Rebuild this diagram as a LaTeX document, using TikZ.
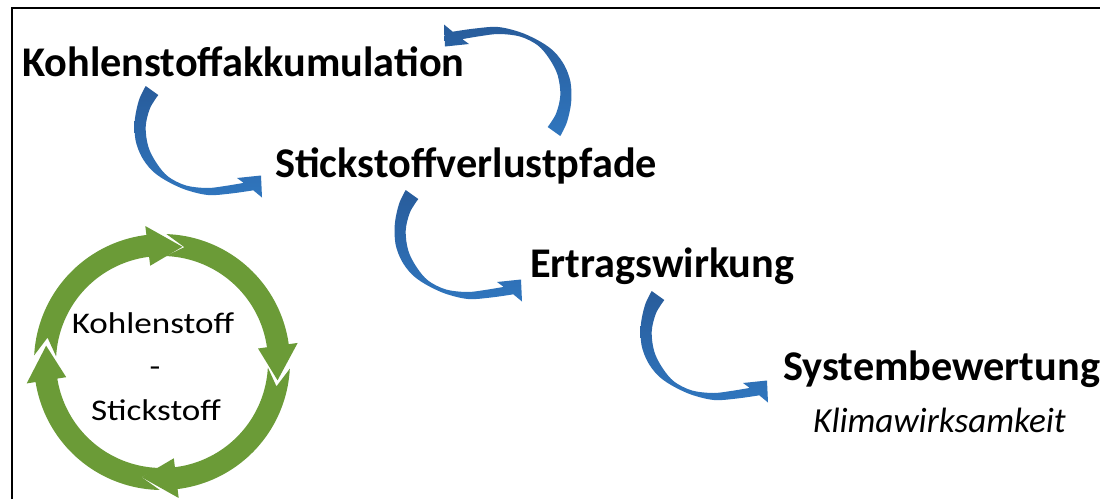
\documentclass[tikz,border=0pt]{standalone}
\usepackage{fontspec}
\setmainfont{Carlito}
\newfontfamily\ringfont[FakeStretch=1.17]{Carlito}
\definecolor{bluedark}{RGB}{40,92,155}
\definecolor{bluelight}{RGB}{48,118,190}
\definecolor{ringgreen}{RGB}{107,155,55}
\tikzset{
  titletext/.style={inner sep=0pt, anchor=base west, font=\fontsize{42.3}{48}\selectfont\bfseries},
  subtext/.style={inner sep=0pt, anchor=base west, font=\fontsize{35.2}{40}\selectfont\itshape},
  ringtext/.style={inner sep=0pt, anchor=base, font=\ringfont\fontsize{30}{35}\selectfont},
  bluearrow/.style={top color=bluedark, bottom color=bluelight, draw=none},
  greenarrow/.style={fill=ringgreen, draw=none},
  frameline/.style={line width=2.2pt, black}
}
% blue curved arrow, drawn in the frame of the first arrow
\newcommand{\curvedarrow}{%
  \shade[bluearrow] plot[smooth, tension=0.55] coordinates {(145.7,86) (139,100) (134.8,120) (135.5,140) (141.5,156.5) (151.5,170) (165,180) (185,189.5) (208,195) (231,193.5) (253.3,190.3)}
    -- (262,197.5) -- (261,175.5) -- (237,178)
    -- plot[smooth, tension=0.55] coordinates {(243.7,182.9) (225,186) (207,188) (186,185.5) (168.3,176.7) (156.7,163.3) (148.3,146.7) (145.7,126.7) (150,108.3) (158.3,95)}
    -- cycle;}
% green ring arrow with tip at angle #1
\newcommand{\ringarrow}[1]{%
  \fill[greenarrow]
    plot[domain={#1+97}:{#1+17}, samples=40] ({162+128*cos(\x)}, {362-128*sin(\x)})
    -- ({162+137*cos(#1+17)}, {362-137*sin(#1+17)})
    -- ({162+117*cos(#1)}, {362-117*sin(#1)})
    -- ({162+97*cos(#1+17)}, {362-97*sin(#1+17)})
    -- plot[domain={#1+17}:{#1+97}, samples=40] ({162+106*cos(\x)}, {362-106*sin(\x)})
    -- ({162+117*cos(#1+88)}, {362-117*sin(#1+88)})
    -- cycle;}
\begin{document}
\begin{tikzpicture}[x=1pt, y=-1pt]
\useasboundingbox (0,0) rectangle (1100,499);
\fill[white] (0,0) rectangle (1100,499);
% frame
\coordinate (fb) at (12,499);
\coordinate (fc) at (12,8.3);
\coordinate (fr) at (1100,8.3);
\draw[frameline] (fb) -- (fc) -- (fr);
% ring
\ringarrow{80}
\ringarrow{-9}
\ringarrow{-100}
\ringarrow{172}
\node[ringtext] (k) at (153,333) {Kohlenstoff};
\node[ringtext] (d) at (155,376.5) {-};
\node[ringtext] (s) at (156,420) {Stickstoff};
% blue arrows
\curvedarrow
\begin{scope}[shift={(706,222)}, xscale=-1, yscale=-1]
\curvedarrow
\end{scope}
\begin{scope}[shift={(260,104)}]
\curvedarrow
\end{scope}
\begin{scope}[shift={(506,205)}]
\curvedarrow
\end{scope}
% texts
\node[titletext] (ka) at (22,76) {Kohlenstoffakkumulation};
\node[titletext] (sv) at (275,177) {Stickstoffverlustpfade};
\node[titletext] (ew) at (530,277) {Ertragswirkung};
\node[titletext] (sb) at (783,380) {Systembewertung};
\node[subtext] (kw) at (813,432) {Klimawirksamkeit};
\end{tikzpicture}
\end{document}
